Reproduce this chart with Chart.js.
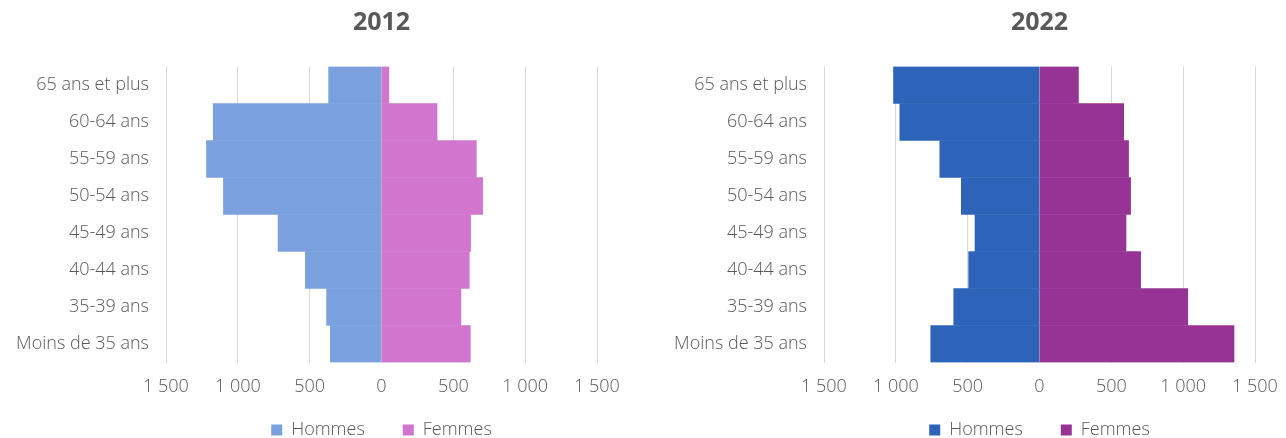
<!DOCTYPE html>
<html lang="fr">
<head>
<meta charset="utf-8">
<script src="https://cdn.jsdelivr.net/npm/chart.js@4.4.1/dist/chart.umd.min.js"></script>
<style>
  html, body { margin: 0; padding: 0; background: #ffffff; overflow: hidden; }
  body { width: 1286px; height: 438px; position: relative; }
  .wrap { position: absolute; top: 0; height: 438px; }
  #w1 { left: 0; width: 640px; }
  #w2 { left: 658px; width: 640px; }
</style>
</head>
<body>
<div class="wrap" id="w1"><canvas id="c1" width="640" height="438"></canvas></div>
<div class="wrap" id="w2"><canvas id="c2" width="640" height="438"></canvas></div>
<script>
// ---- Data ----
const categories = ['65 ans et plus', '60-64 ans', '55-59 ans', '50-54 ans', '45-49 ans', '40-44 ans', '35-39 ans', 'Moins de 35 ans'];
const seriesNames = ['Hommes', 'Femmes'];
const titles = ['2012', '2022'];
const hommes2012 = [368, 1171, 1218, 1100, 720, 530, 382, 356];
const femmes2012 = [51, 387, 660, 704, 620, 611, 553, 618];
const hommes2022 = [1016, 972, 694, 544, 449, 493, 597, 757];
const femmes2022 = [271, 586, 620, 634, 602, 704, 1032, 1354];
const xTickValues = [-1500, -1000, -500, 0, 500, 1000, 1500];

// ---- Styles ----
const FONT = '"Open Sans", "Noto Sans", sans-serif';
const GRAY = '#595959';
const colors2012 = ['#7aa0de', '#d175cf'];
const colors2022 = ['#2d64b9', '#983396'];

function fmt(v) {
  return String(Math.abs(v)).replace(/\B(?=(\d{3})+(?!\d))/g, '\u00a0');
}

function makeChart(id, title, hommes, femmes, cols) {
  return new Chart(document.getElementById(id), {
    type: 'bar',
    data: {
      labels: categories,
      datasets: [
        { label: seriesNames[0], data: hommes.map(v => -v), backgroundColor: cols[0], borderWidth: 0, barPercentage: 1, categoryPercentage: 1 },
        { label: seriesNames[1], data: femmes, backgroundColor: cols[1], borderWidth: 0, barPercentage: 1, categoryPercentage: 1 }
      ]
    },
    options: {
      indexAxis: 'y',
      responsive: false,
      animation: false,
      devicePixelRatio: 1,
      layout: { padding: { left: 0, right: 43, top: 0, bottom: 0 } },
      scales: {
        x: {
          stacked: true,
          min: xTickValues[0],
          max: xTickValues[xTickValues.length - 1],
          afterBuildTicks: (scale) => { scale.ticks = xTickValues.map(v => ({ value: v })); },
          grid: { color: '#d9d9d9', lineWidth: 1, drawTicks: false },
          border: { display: false },
          ticks: { color: GRAY, font: { family: FONT, size: 18, weight: 300 }, padding: 14, callback: (v) => fmt(v), maxRotation: 0 },
          afterFit: (scale) => {
            scale.height = 20.5;
            scale._computeLabelArea = () => undefined;
          }
        },
        y: {
          stacked: true,
          grid: { display: false, drawTicks: false },
          border: { display: false },
          ticks: { color: GRAY, font: { family: FONT, size: 18, weight: 300 }, padding: 17 },
          afterFit: (scale) => { scale.width = 166; }
        }
      },
      plugins: {
        title: {
          display: true,
          text: title,
          fullSize: false,
          color: GRAY,
          font: { family: FONT, size: 25, weight: 'bold', lineHeight: 1.2 },
          padding: { top: 8, bottom: 28.5 }
        },
        legend: {
          display: true,
          position: 'bottom',
          fullSize: false,
          maxHeight: 55,
          labels: {
            color: GRAY,
            font: { family: FONT, size: 18, weight: 300 },
            boxWidth: 11,
            boxHeight: 11,
            padding: 38
          }
        },
        tooltip: { enabled: false }
      }
    }
  });
}

makeChart('c1', titles[0], hommes2012, femmes2012, colors2012);
makeChart('c2', titles[1], hommes2022, femmes2022, colors2022);
</script>
</body>
</html>
